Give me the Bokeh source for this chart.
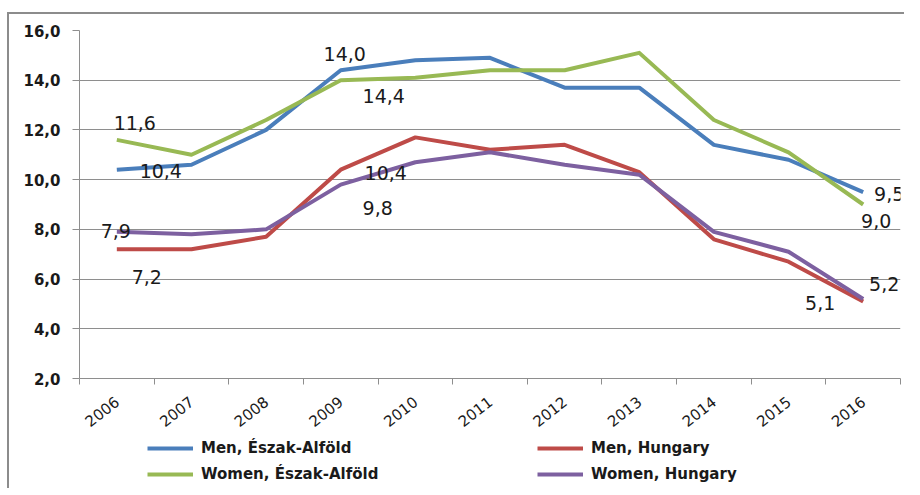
import math
from bokeh.plotting import figure
from bokeh.layouts import column
from bokeh.models import Range1d, FixedTicker, Legend, LegendItem, ColumnDataSource, LabelSet
from bokeh.core.properties import value
from bokeh.embed import file_html
from bokeh.resources import INLINE

years = [2006, 2007, 2008, 2009, 2010, 2011, 2012, 2013, 2014, 2015, 2016]
men_ea = [10.4, 10.6, 12.0, 14.4, 14.8, 14.9, 13.7, 13.7, 11.4, 10.8, 9.5]
women_ea = [11.6, 11.0, 12.4, 14.0, 14.1, 14.4, 14.4, 15.1, 12.4, 11.1, 9.0]
men_hu = [7.2, 7.2, 7.7, 10.4, 11.7, 11.2, 11.4, 10.3, 7.6, 6.7, 5.1]
women_hu = [7.9, 7.8, 8.0, 9.8, 10.7, 11.1, 10.6, 10.2, 7.9, 7.1, 5.2]

series_names = ["Men, Észak-Alföld", "Men, Hungary", "Women, Észak-Alföld", "Women, Hungary"]
y_ticks = [2, 4, 6, 8, 10, 12, 14, 16]

# labelled points: (series index, year index, x_offset px, y_offset px)
labelled = [
    (2, 0, 18, -17), (0, 0, 44, 1), (2, 3, 4, -26), (0, 3, 43, 26),
    (1, 3, 45, 3), (3, 3, 37, 23), (3, 0, -1, -1), (1, 0, 30, 28),
    (0, 10, 26, 2), (2, 10, 13, 16), (1, 10, -43, 2), (3, 10, 21, -15),
]

colors = ["#4A7EBB", "#BE4B48", "#98B954", "#7D60A0"]
data = [men_ea, men_hu, women_ea, women_hu]

p = figure(output_backend="svg", toolbar_location=None,
           frame_width=821, frame_height=348,
           min_border_left=79, min_border_top=30, min_border_right=4, min_border_bottom=48,
           x_range=Range1d(2005.5, 2016.5), y_range=Range1d(2, 16))
p.outline_line_color = None
p.background_fill_color = "white"
p.border_fill_alpha = 0

p.xgrid.grid_line_color = None
p.ygrid.grid_line_color = "#8e8e8e"
p.ygrid.grid_line_width = 1

p.xaxis.ticker = FixedTicker(ticks=years, minor_ticks=[y - 0.5 for y in years] + [years[-1] + 0.5])
p.xaxis.major_tick_out = 0
p.xaxis.major_tick_in = 0
p.xaxis.minor_tick_out = 6
p.xaxis.minor_tick_in = 0
p.xaxis.minor_tick_line_color = "#8e8e8e"
p.xaxis.axis_line_color = "#8e8e8e"
p.xaxis.major_label_orientation = 0.66
p.xaxis.major_label_standoff = 15
p.xaxis.major_label_text_font = "DejaVu Sans"
p.xaxis.major_label_text_font_size = "15px"
p.xaxis.major_label_text_color = "#1a1a1a"
p.xaxis.major_label_overrides = {y: str(y) for y in years}

p.yaxis.ticker = FixedTicker(ticks=y_ticks, minor_ticks=[])
p.yaxis.major_label_overrides = {t: f"{t:.1f}".replace(".", ",") for t in y_ticks}
p.yaxis.axis_line_color = "#8e8e8e"
p.yaxis.major_tick_line_color = "#8e8e8e"
p.yaxis.major_tick_out = 7
p.yaxis.major_tick_in = 0
p.yaxis.major_label_standoff = 12
p.yaxis.major_label_text_font = "DejaVu Sans"
p.yaxis.major_label_text_font_style = "bold"
p.yaxis.major_label_text_font_size = "15px"
p.yaxis.major_label_text_color = "#1a1a1a"

for vals, c in zip(data, colors):
    p.line(years, vals, line_color=c, line_width=4, line_join="round")

# data labels
lab_src = ColumnDataSource(dict(
    x=[years[yi] for si, yi, dx, dy in labelled],
    y=[data[si][yi] for si, yi, dx, dy in labelled],
    t=[f"{data[si][yi]:.1f}".replace(".", ",") for si, yi, dx, dy in labelled],
    dx=[dx for si, yi, dx, dy in labelled],
    dy=[-dy for si, yi, dx, dy in labelled],
))
labels = LabelSet(x="x", y="y", text="t", x_offset="dx", y_offset="dy", source=lab_src,
                  text_align="center", text_baseline="middle",
                  text_font=value("DejaVu Sans"), text_font_size="19px", text_color="#1a1a1a")
p.add_layout(labels)

# legend strip below the chart (its lines lie outside its own view; only the legend shows)
lp = figure(output_backend="svg", toolbar_location=None, width=904, height=53,
            min_border=0, x_axis_location=None, y_axis_location=None,
            x_range=Range1d(0, 1), y_range=Range1d(0, 1))
lp.outline_line_color = None
lp.grid.visible = False
lp.background_fill_alpha = 0
lp.border_fill_alpha = 0
lrs = [lp.line(years, vals, line_color=c, line_width=4) for vals, c in zip(data, colors)]

legend = Legend(items=[LegendItem(label=series_names[0], renderers=[lrs[0]]),
                       LegendItem(label=series_names[2], renderers=[lrs[2]]),
                       LegendItem(label=series_names[1], renderers=[lrs[1]]),
                       LegendItem(label=series_names[3], renderers=[lrs[3]])],
                location=(68, 5), orientation="vertical", nrows=2,
                border_line_color=None, background_fill_alpha=0, padding=0, margin=0,
                glyph_width=46, glyph_height=18, label_height=18, label_width=328,
                spacing=8, label_standoff=8,
                label_text_font="DejaVu Sans", label_text_font_style="bold",
                label_text_font_size="15px", label_text_color="#1a1a1a")
lp.add_layout(legend, "center")

layout = column(p, lp, spacing=0)
layout.styles = {"background": "linear-gradient(#8c8c8c,#8c8c8c) 7px 12px / 2px 100% no-repeat, "
                               "linear-gradient(#8c8c8c,#8c8c8c) 7px 12px / 100% 2px no-repeat, #ffffff"}

open("out.html", "w").write(file_html(layout, INLINE))
